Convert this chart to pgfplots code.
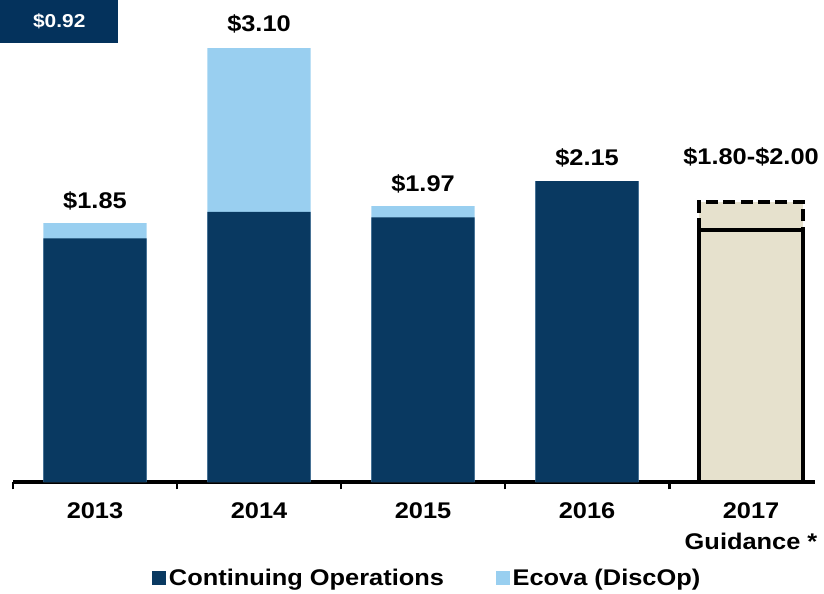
\documentclass[border=0pt]{standalone}
\usepackage{fontspec}
\setmainfont{Liberation Sans}[FakeStretch=1.12]
\usepackage{pgfplots}
\usepackage{pgfplotstable}
\pgfplotsset{compat=1.18}
\definecolor{navy}{RGB}{9,57,97}
\definecolor{lightblue}{RGB}{153,207,240}
\definecolor{beige}{RGB}{230,225,205}
\definecolor{boxnavy}{RGB}{4,50,92}
\pgfplotstableread{
x cont ecova
0 1.74 0.11
1 1.93 1.17
2 1.89 0.08
3 2.15 0.00
}\eps
\newcommand{\lbl}{\bfseries\fontsize{17}{23.5}\selectfont}
\begin{document}
\begin{tikzpicture}
\path[use as bounding box] (0,0) rectangle (618pt,444.75pt);
\begin{axis}[
  at={(9.75pt,83.25pt)}, anchor=south west,
  scale only axis, width=601.5pt, height=361.5pt,
  xmin=-0.5, xmax=4.39, ymin=0, ymax=3.443,
  axis x line=bottom, axis y line=none,
  axis line style={line width=2.4pt, -, black},
  xtick={0,...,4},
  xticklabels={2013,2014,2015,2016,{2017\\Guidance *}},
  minor xtick={-0.5,0.5,1.5,2.5,3.5},
  major tick length=0pt, minor tick length=5.5pt, tick align=outside,
  minor tick style={line width=2.2pt, black},
  xticklabel style={font=\lbl, align=center, yshift=-12pt},
  ytick=\empty,
  ybar, bar width=0.63, bar shift=0pt,
  clip=false,
  legend columns=2,
  legend style={draw=none, at={(0.517,-0.199)}, anchor=center,
    font=\lbl,
    /tikz/every even column/.append style={column sep=37pt}},
  legend image code/.code={\fill[#1] (0pt,-5.25pt) rectangle (10.5pt,5.25pt);},
]
% totals (Continuing + Ecova)
\addplot[fill=lightblue, draw=none, forget plot] table[x=x, y expr=\thisrow{cont}+\thisrow{ecova}] {\eps};
% continuing operations
\addplot[fill=navy, draw=none, forget plot] table[x=x, y=cont] {\eps};
% 2017 guidance range top
\addplot[fill=beige, draw=black, line width=3pt, dash pattern=on 9pt off 4pt, forget plot] coordinates {(4,2.00)};
% 2017 guidance low end
\addplot[fill=beige, draw=black, line width=3pt, forget plot] coordinates {(4,1.80)};
\addlegendimage{fill=navy, draw=none}
\addlegendentry{Continuing Operations}
\addlegendimage{fill=lightblue, draw=none}
\addlegendentry{Ecova (DiscOp)}
\node[font=\lbl, anchor=base, yshift=11pt] at (axis cs:0,1.85) {\$1.85};
\node[font=\lbl, anchor=base, yshift=12.5pt] at (axis cs:1,3.10) {\$3.10};
\node[font=\lbl, anchor=base, yshift=11pt] at (axis cs:2,1.97) {\$1.97};
\node[font=\lbl, anchor=base, yshift=12pt] at (axis cs:3,2.15) {\$2.15};
\node[font=\lbl, anchor=base, yshift=28pt] at (axis cs:4,2.00) {\$1.80-\$2.00};
\end{axis}
\node[fill=boxnavy, text=white, font=\bfseries\fontsize{14}{16}\selectfont, minimum width=88.5pt, minimum height=32.25pt, anchor=north west, inner sep=0pt] at (0pt,444.75pt) {\$0.92};
\end{tikzpicture}
\end{document}
